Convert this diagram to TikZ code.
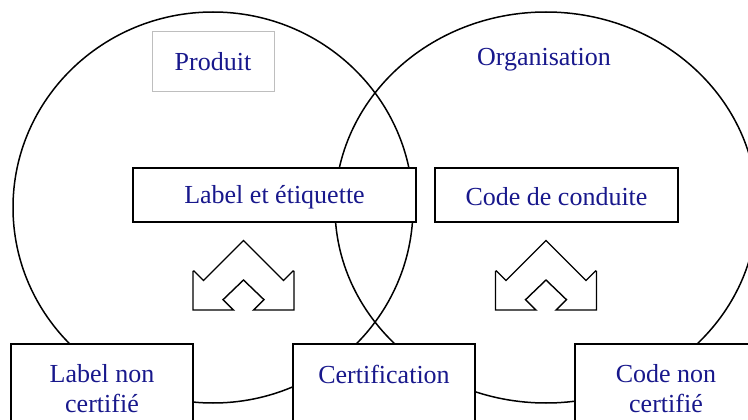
\documentclass[tikz,border=0pt]{standalone}
\usepackage{fontspec}
\setmainfont{Liberation Serif}
\definecolor{txt}{RGB}{24,24,140}
\definecolor{lightframe}{RGB}{190,190,190}
\begin{document}
\begin{tikzpicture}[x=1pt,y=-1pt,
  lbl/.style={font=\fontsize{26}{30}\selectfont, text=txt},
  box/.style={draw=black, line width=1.6pt, fill=white, lbl, align=center, inner sep=0pt},
  ring/.style={draw=black, line width=1.5pt},
  crownline/.style={draw=black, line width=1.4pt, line join=miter},
  crown/.pic={
    \draw[crownline] (-50.5,69.5) -- (-50.5,31) -- (-49.5,30.5) -- (-40,40) -- (0,0)
      -- (40,40) -- (49.5,30.5) -- (50.5,31) -- (50.5,69.5) -- (10,69.5) -- (20.5,59.2)
      -- (0,39.5) -- (-20.5,59.2) -- (-10,69.5) -- cycle;
  }]
\useasboundingbox (0,0) rectangle (748,420);
\clip (0,0) rectangle (748,420);
\fill[white] (0,0) rectangle (748,420);
% the two sets
\draw[ring] (213,207.5) ellipse [x radius=200, y radius=195.5];
\draw[ring] (546,207.5) ellipse [x radius=211, y radius=195.5];
% titles
\node[draw=lightframe, line width=0.8pt, fill=white, lbl, minimum width=122pt, minimum height=60pt, inner sep=0pt] (produit) at (213,61) {\raisebox{-1pt}[\height][\depth]{Produit}};
\node[lbl] (org) at (544,60) {Organisation};
% middle boxes
\node[box, minimum width=283pt, minimum height=54pt] (let) at (274.5,195) {\raisebox{-2.5pt}[\height][\depth]{Label et étiquette}};
\node[box, minimum width=243pt, minimum height=54pt] (cdc) at (556.5,195) {\raisebox{-1.5pt}[\height][\depth]{Code de conduite}};
% bottom boxes
\node[box, minimum width=182pt, minimum height=90pt] (lnc) at (102,389) {Label non\\certifié};
\node[box, minimum width=182pt, minimum height=90pt] (cert) at (384,389) {Certification\\\mbox{}};
\node[box, minimum width=182pt, minimum height=90pt] (cnc) at (666,389) {Code non\\certifié};
% arrows
\pic at (243.5,240.5) {crown};
\pic at (546,240.5) {crown};
\end{tikzpicture}
\end{document}
